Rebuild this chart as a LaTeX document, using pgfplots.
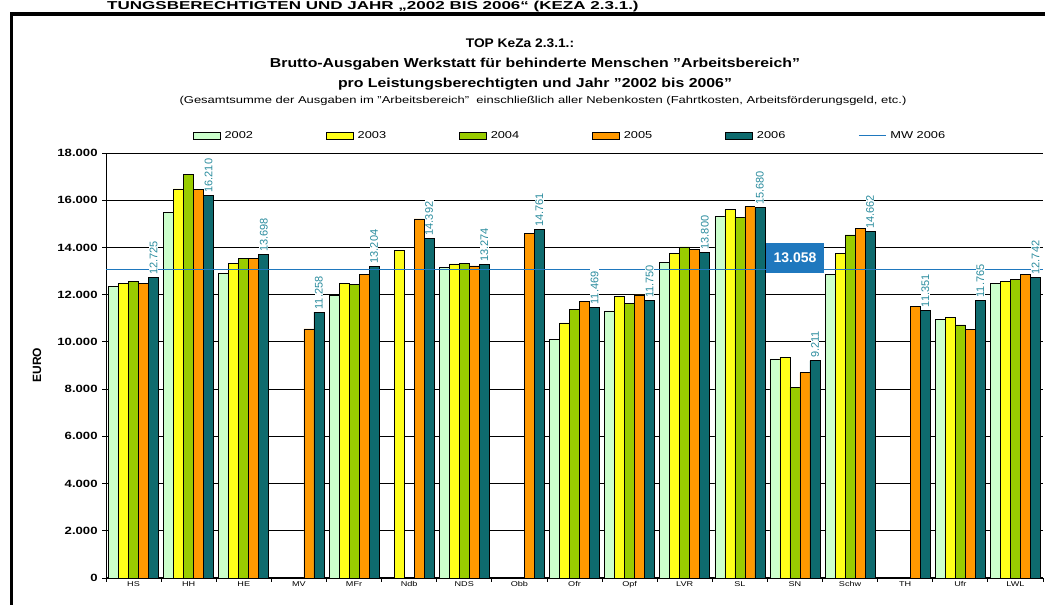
\documentclass[border=0pt]{standalone}
\usepackage{fontspec}
\setmainfont{Liberation Sans}
\usepackage{graphicx}
\usepackage{pgfplots}
\pgfplotsset{compat=1.18}
\pgfplotsset{
  barlegend/.style={legend image code/.code={\draw[##1, line width=0.6pt] (0pt,-3.5pt) rectangle (27pt,3.5pt);}},
  linelegend/.style={legend image code/.code={\draw[##1] (0pt,0pt) -- (27pt,0pt);}},
}
\definecolor{c2002}{HTML}{CCFFCC}
\definecolor{c2003}{HTML}{FFFF1A}
\definecolor{c2004}{HTML}{99CC00}
\definecolor{c2005}{HTML}{FF9900}
\definecolor{c2006}{HTML}{0E6B6E}
\definecolor{mwblue}{HTML}{1F78BE}
\definecolor{lblcol}{HTML}{2A8C9E}
\newcommand{\wide}[1]{\scalebox{1.28}[1]{#1}}
\begin{document}
\begin{tikzpicture}[x=1pt,y=1pt]
\useasboundingbox (0,0) rectangle (1045,605);
\node[anchor=base west, inner sep=0pt, font=\bfseries\fontsize{11.5}{13}\selectfont] at (107,595) {\scalebox{1.48}[1]{TUNGSBERECHTIGTEN UND JAHR „2002 BIS 2006“ (KEZA 2.3.1.)}};
\draw[line width=3.5pt] (11.5,-30) -- (11.5,591) -- (1080,591);
\node[font=\bfseries\fontsize{12.5}{15}\selectfont] at (520,562) {\scalebox{1.1}[1]{TOP KeZa 2.3.1.:}};
\node[font=\bfseries\fontsize{13}{15}\selectfont] at (535,541) {\scalebox{1.22}[1]{Brutto-Ausgaben Werkstatt für behinderte Menschen "Arbeitsbereich"}};
\node[font=\bfseries\fontsize{13}{15}\selectfont] at (535,521) {\scalebox{1.22}[1]{pro Leistungsberechtigten und Jahr "2002 bis 2006"}};
\node[font=\fontsize{10}{12}\selectfont] at (543,504) {\scalebox{1.3}[1]{(Gesamtsumme der Ausgaben im "Arbeitsbereich"\ \ einschließlich aller Nebenkosten (Fahrtkosten, Arbeitsförderungsgeld, etc.)}};
\begin{axis}[
  at={(106pt,27pt)}, anchor=south west, scale only axis,
  width=937pt, height=425pt,
  xmin=-0.5, xmax=16.5, ymin=0, ymax=18000,
  clip=false,
  axis x line*=bottom, axis y line*=left,
  axis line style={line width=1pt, -},
  ymajorgrids, major grid style={black, line width=0.8pt},
  ytick={0,2000,...,18000},
  scaled y ticks=false,
  /pgf/number format/assume math mode=true,
  y tick label style={/pgf/number format/1000 sep={.}, font=\bfseries\fontsize{10.5}{12}\selectfont, xscale=1.25},
  xtick={-0.5,0.5,...,16.5}, xticklabels={},
  extra x ticks={0,...,16},
  extra x tick labels={HS,HH,HE,MV,MFr,Ndb,NDS,Obb,Ofr,Opf,LVR,SL,SN,Schw,TH,Ufr,LWL},
  extra x tick style={major tick length=0pt},
  x tick label style={font=\fontsize{7}{8}\selectfont, xscale=1.3},
  tick align=outside, major tick length=4pt,
  tick style={black, line width=0.8pt},
  ylabel={EURO},
  ylabel style={at={(axis description cs:-0.0736,0.501)}, anchor=center, font=\bfseries\fontsize{12}{14}\selectfont},
  legend style={at={(axis description cs:0.0928,1.04)}, anchor=west, draw=none, fill=none,
    inner sep=0pt, outer sep=0pt, legend columns=6, font=\fontsize{10}{12}\selectfont,
    nodes={inner sep=1pt},
    /tikz/every odd column/.style={column sep=3pt},
    /tikz/every even column/.style={column sep=0pt}},
  legend cell align=left,
  barlegend,
]
\addplot[ybar, bar width=10pt, bar shift=-20pt, fill=c2002, draw=black, line width=0.7pt] coordinates {
 (0,12340) (1,15480) (2,12910) (4,11980) (6,13170) (8,10120) (9,11310) (10,13360) (11,15300) (12,9280) (13,12840) (15,10960) (16,12490)};
\addlegendentry{\makebox[100.5pt][l]{\wide{2002}}}
\addplot[ybar, bar width=10pt, bar shift=-10pt, fill=c2003, draw=black, line width=0.7pt] coordinates {
 (0,12480) (1,16480) (2,13330) (4,12490) (5,13870) (6,13300) (8,10800) (9,11920) (10,13730) (11,15600) (12,9350) (13,13760) (15,11030) (16,12550)};
\addlegendentry{\makebox[100.5pt][l]{\wide{2003}}}
\addplot[ybar, bar width=10pt, bar shift=0pt, fill=c2004, draw=black, line width=0.7pt] coordinates {
 (0,12560) (1,17080) (2,13520) (4,12420) (6,13330) (8,11380) (9,11640) (10,14020) (11,15280) (12,8080) (13,14530) (15,10720) (16,12660)};
\addlegendentry{\makebox[100.5pt][l]{\wide{2004}}}
\addplot[ybar, bar width=10pt, bar shift=10pt, fill=c2005, draw=black, line width=0.7pt] coordinates {
 (0,12480) (1,16470) (2,13540) (3,10550) (4,12840) (5,15210) (6,13220) (7,14600) (8,11730) (9,11990) (10,13930) (11,15730) (12,8700) (13,14820) (14,11500) (15,10540) (16,12840)};
\addlegendentry{\makebox[100.5pt][l]{\wide{2005}}}
\addplot[ybar, bar width=10pt, bar shift=20pt, fill=c2006, draw=black, line width=0.7pt,
  point meta=explicit symbolic, nodes near coords,
  every node near coord/.append style={xshift=20pt, rotate=90, anchor=west, font=\fontsize{11}{12}\selectfont, text=lblcol, fill=white, inner xsep=2.5pt, inner ysep=0.5pt}] coordinates {
 (0,12725) [12.725] (1,16210) [16.210] (2,13698) [13.698] (3,11258) [11.258] (4,13204) [13.204]
 (5,14392) [14.392] (6,13274) [13.274] (7,14761) [14.761] (8,11469) [11.469] (9,11750) [11.750]
 (10,13800) [13.800] (11,15680) [15.680] (12,9211) [9.211] (13,14662) [14.662] (14,11351) [11.351]
 (15,11765) [11.765] (16,12742) [12.742]};
\addlegendentry{\makebox[100.5pt][l]{\wide{2006}}}
\addplot[mwblue, line width=1pt, mark=none, linelegend] coordinates {(-0.5,13058) (16.5,13058)};
\addlegendentry{\makebox[60pt][l]{\wide{MW 2006}}}
\node[fill=mwblue, text=white, font=\bfseries\fontsize{14}{16}\selectfont, minimum width=58pt, minimum height=30pt, inner sep=0pt] at (axis cs:12,13550) {13.058};
\end{axis}
\end{tikzpicture}
\end{document}
